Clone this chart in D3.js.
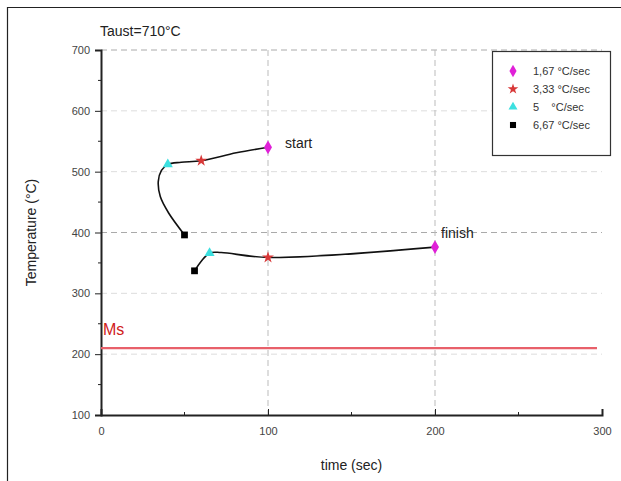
<!DOCTYPE html>
<html>
<head>
<meta charset="utf-8">
<script src="https://cdn.jsdelivr.net/npm/d3@7"></script>
<style>
  body { margin: 0; background: #fff; }
  text { font-family: "Liberation Sans", Arial, sans-serif; }
</style>
</head>
<body>
<div id="chart"></div>
<script>
// cooling rates (legend) and the points of each curve, one per rate
const rates = ['1,67 °C/sec', '3,33 °C/sec', '5    °C/sec', '6,67 °C/sec']
const startTime = [100, 60, 40, 50]
const startTemp = [540, 518, 512, 396]
const finishTime = [200, 100, 65, 56]
const finishTemp = [376, 359, 366, 337]
// the drawn start curve (it bows left below the 5 °C/sec point)
const startCurveTime = [100, 81, 60, 48, 40, 36.2, 34.3, 35.5, 40.5, 50]
const startCurveTemp = [540, 531, 518, 515.5, 512, 502, 484, 459, 432, 396]
const finishCurveTime = [56, 65, 72, 100, 200]
const finishCurveTemp = [337, 366, 367, 359, 376]
const msTemp = 210
const msTime = [0, 297]
const xTicks = [0, 100, 200, 300]
const yTicks = [100, 200, 300, 400, 500, 600, 700]

const width = 621, height = 481
const margin = { top: 50, right: 19, bottom: 66, left: 101 }

const colors = ['#e020d8', '#d83838', '#3ce0e0', '#000000']
const symbols = [d3.symbolDiamond, d3.symbolStar, d3.symbolTriangle, d3.symbolSquare]
const sizes = [55, 44, 44, 46]

const svg = d3.select('#chart').append('svg')
  .attr('width', width).attr('height', height)

// frame of the figure
svg.append('path')
  .attr('d', `M7.5,${height} V7.5 H${width}`)
  .attr('fill', 'none').attr('stroke', '#222').attr('stroke-width', 1.2)

const x = d3.scaleLinear().domain([0, 300]).range([margin.left, width - margin.right])
const y = d3.scaleLinear().domain([100, 700]).range([height - margin.bottom, margin.top])

// grid
svg.append('g').selectAll('line').data([200, 300, 400, 500, 600, 700]).join('line')
  .attr('x1', x(0)).attr('x2', x(300))
  .attr('y1', d => y(d)).attr('y2', d => y(d))
  .attr('stroke', d => d === 400 || d === 700 ? '#aaa' : '#ddd')
  .attr('stroke-dasharray', '6,4')
svg.append('g').selectAll('line').data([100, 200]).join('line')
  .attr('x1', d => x(d)).attr('x2', d => x(d))
  .attr('y1', y(700)).attr('y2', y(100))
  .attr('stroke', '#bbb').attr('stroke-dasharray', '6,4')

// axes
const yAxis = svg.append('g').attr('transform', `translate(${x(0)},0)`)
  .call(d3.axisLeft(y).tickValues(yTicks).tickSize(6).tickPadding(5))
yAxis.append('g').selectAll('line').data([150, 250, 350, 450, 550, 650]).join('line')
  .attr('x1', -3).attr('x2', 0).attr('y1', d => y(d)).attr('y2', d => y(d)).attr('stroke', '#222')
const xAxis = svg.append('g').attr('transform', `translate(0,${y(100)})`)
  .call(d3.axisBottom(x).tickValues(xTicks).tickSize(-6).tickPadding(12))
xAxis.append('g').selectAll('line').data([50, 150, 250]).join('line')
  .attr('x1', d => x(d)).attr('x2', d => x(d)).attr('y1', -3).attr('y2', 0).attr('stroke', '#222')
svg.selectAll('.domain').attr('stroke', '#222').attr('stroke-width', 2)
svg.selectAll('.tick line').attr('stroke', '#222')
svg.selectAll('.tick text').attr('font-size', 11).attr('fill', '#444')

// Ms line
svg.append('line')
  .attr('x1', x(msTime[0])).attr('x2', x(msTime[1]))
  .attr('y1', y(msTemp)).attr('y2', y(msTemp))
  .attr('stroke', '#e8606a').attr('stroke-width', 2.2)
svg.append('text').attr('x', x(0) + 2).attr('y', y(msTemp) - 13)
  .attr('font-size', 16).attr('fill', '#d02020').text('Ms')

// curves
const line = d3.line().x(d => x(d[0])).y(d => y(d[1])).curve(d3.curveCatmullRom.alpha(0.5))
const startCurve = startCurveTime.map((t, i) => [t, startCurveTemp[i]])
const finishCurve = finishCurveTime.map((t, i) => [t, finishCurveTemp[i]])
svg.append('path').attr('d', line(startCurve)).attr('fill', 'none').attr('stroke', '#111').attr('stroke-width', 1.6)
svg.append('path').attr('d', line(finishCurve)).attr('fill', 'none').attr('stroke', '#111').attr('stroke-width', 1.6)

const startPts = startTime.map((t, i) => [t, startTemp[i]])
const finishPts = finishTime.map((t, i) => [t, finishTemp[i]])
const marks = startPts.map((p, i) => ({ p, i })).concat(finishPts.map((p, i) => ({ p, i })))
svg.append('g').selectAll('path').data(marks).join('path')
  .attr('transform', d => `translate(${x(d.p[0])},${y(d.p[1])})`)
  .attr('d', d => d3.symbol(symbols[d.i], sizes[d.i])())
  .attr('fill', d => colors[d.i])

svg.append('text').attr('x', x(startTime[0]) + 17).attr('y', y(startTemp[0]) + 1)
  .attr('font-size', 14).attr('fill', '#222').text('start')
svg.append('text').attr('x', x(finishTime[0]) + 6).attr('y', y(finishTemp[0]) - 9)
  .attr('font-size', 14).attr('fill', '#222').text('finish')

// legend
const lg = svg.append('g').attr('transform', 'translate(492,51)')
lg.append('rect').attr('x', 0.5).attr('y', 0.5).attr('width', 118).attr('height', 104)
  .attr('fill', '#fff').attr('stroke', '#333').attr('stroke-width', 1.2)
const item = lg.selectAll('g.item').data(rates).join('g')
  .attr('transform', (d, i) => `translate(21,${20 + i * 18})`)
item.append('path').attr('d', (d, i) => d3.symbol(symbols[i], sizes[i] * 0.8)()).attr('fill', (d, i) => colors[i])
item.append('text').attr('x', 20).attr('y', 4).attr('font-size', 11).attr('fill', '#333')
  .attr('xml:space', 'preserve').style('white-space', 'pre').text(d => d)

// titles
svg.append('text').attr('x', 100).attr('y', 36).attr('font-size', 14).attr('fill', '#222').text('Taust=710°C')
svg.append('text').attr('x', x(150)).attr('y', 470).attr('text-anchor', 'middle')
  .attr('font-size', 14).attr('fill', '#222').text('time (sec)')
svg.append('text').attr('transform', `translate(36,${y(400)}) rotate(-90)`).attr('text-anchor', 'middle')
  .attr('font-size', 14).attr('fill', '#222').text('Temperature (°C)')
</script>
</body>
</html>
